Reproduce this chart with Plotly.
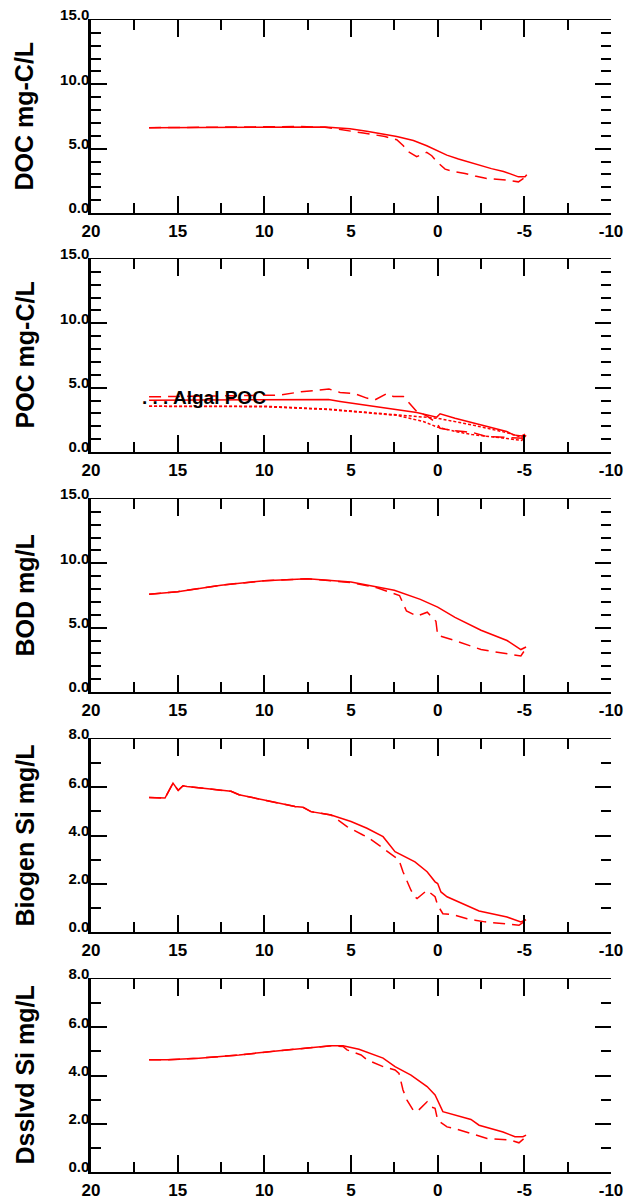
import plotly.graph_objects as go

# ---------------- data ----------------
# DOC mg-C/L
doc_x_a = [16.65, 14, 12, 10, 7.94, 6.5, 5.06, 4.09, 2.36, 1.4, 0.63, 0.05, -0.53, -1.2, -2.06, -2.45, -3.1, -3.8, -4.18, -4.66, -5.04, -5.14]
doc_y_a = [6.63, 6.65, 6.66, 6.68, 6.72, 6.68, 6.54, 6.35, 5.94, 5.63, 5.23, 4.84, 4.5, 4.2, 3.85, 3.67, 3.45, 3.23, 3.02, 2.81, 2.81, 2.97]
doc_x_b = [16.65, 14, 12, 10, 7.94, 6.5, 5.06, 4.29, 3.61, 3.04, 2.36, 1.98, 1.78, 1.21, 0.63, 0.34, 0.05, -0.43, -0.9, -1.58, -2.16, -2.83, -3.98, -4.66, -5.14]
doc_y_b = [6.63, 6.65, 6.66, 6.68, 6.72, 6.66, 6.41, 6.22, 6.07, 5.94, 5.7, 5.23, 4.84, 4.38, 4.71, 4.45, 3.98, 3.41, 3.23, 3.07, 2.87, 2.68, 2.55, 2.42, 2.86]

# POC mg-C/L (total)
poc_x_a = [16.65, 12, 9, 6.3, 5.63, 3.7, 1.21, 0.05, -0.14, -1.0, -2.06, -3.0, -3.98, -4.37, -4.85, -5.04]
poc_y_a = [4.03, 4.05, 4.07, 4.08, 3.93, 3.55, 3.07, 2.71, 2.97, 2.62, 2.24, 1.92, 1.59, 1.33, 1.25, 1.38]
poc_x_b = [16.65, 12, 9.15, 7.88, 6.27, 5.63, 4.77, 4.09, 3.61, 2.94, 2.56, 1.98, 1.21, 0.63, 0.05, -0.14, -0.9, -1.48, -2.06, -2.83, -4.94, -5.04]
poc_y_b = [4.29, 4.35, 4.42, 4.68, 4.89, 4.63, 4.53, 4.19, 4.06, 4.53, 4.32, 4.32, 3.15, 2.81, 2.24, 1.85, 1.66, 1.59, 1.5, 1.2, 1.07, 1.38]
# Algal POC
apoc_x_a = [16.65, 10, 6.3, 3.0, 1.0, 0.0, -2.0, -4.0, -4.85, -5.1]
apoc_y_a = [3.55, 3.56, 3.33, 2.97, 2.75, 2.62, 2.1, 1.5, 1.15, 1.3]
apoc_x_b = [16.65, 10, 6.3, 3.0, 2.36, 0.83, 0.05, -1.0, -2.0, -4.0, -4.85, -5.1]
apoc_y_b = [3.55, 3.52, 3.3, 2.9, 2.85, 2.37, 1.95, 1.6, 1.35, 1.05, 0.9, 1.3]

# BOD mg/L
bod_x_a = [16.65, 15, 12.5, 10, 7.5, 5.0, 2.5, 1.0, 0.0, -1.0, -2.5, -4.0, -4.8, -5.1]
bod_y_a = [7.6, 7.8, 8.3, 8.65, 8.8, 8.55, 7.9, 7.2, 6.6, 5.8, 4.8, 4.0, 3.3, 3.5]
bod_x_b = [16.65, 15, 12.5, 10, 7.5, 5.0, 3.5, 2.2, 1.8, 1.2, 0.6, 0.1, 0.0, -1.0, -2.5, -4.0, -4.8, -5.1]
bod_y_b = [7.6, 7.8, 8.3, 8.65, 8.8, 8.5, 8.1, 7.5, 6.3, 5.9, 6.2, 5.5, 4.4, 4.0, 3.3, 3.0, 2.8, 3.4]

# Biogen Si mg/L
bsi_x_a = [16.65, 15.73, 15.27, 14.97, 14.69, 14.46, 11.92, 11.46, 10.08, 8.69, 8.23, 7.77, 7.31, 6.15, 5.0, 4.08, 3.15, 2.46, 1.31, 0.61, 0.15, 0.0, -0.19, -0.54, -2.04, -2.39, -4.0, -4.46, -4.8, -5.1]
bsi_y_a = [5.57, 5.55, 6.17, 5.87, 6.06, 6.03, 5.83, 5.69, 5.48, 5.27, 5.2, 5.17, 4.99, 4.85, 4.58, 4.3, 3.95, 3.33, 2.91, 2.5, 2.08, 2.01, 1.66, 1.46, 0.97, 0.87, 0.62, 0.49, 0.42, 0.51]
bsi_x_b = [16.65, 15.73, 15.27, 14.97, 14.69, 14.46, 11.92, 11.46, 10.08, 8.69, 8.23, 7.77, 7.31, 6.15, 5.23, 4.31, 4.08, 3.27, 2.46, 2.23, 2.0, 1.77, 1.54, 1.31, 1.19, 0.61, 0.38, 0.15, 0.0, -0.3, -0.88, -1.7, -2.16, -2.73, -4.69, -5.1]
bsi_y_b = [5.57, 5.55, 6.17, 5.87, 6.06, 6.03, 5.83, 5.69, 5.48, 5.27, 5.2, 5.17, 4.99, 4.85, 4.37, 4.02, 3.95, 3.54, 3.12, 2.98, 2.5, 2.15, 1.73, 1.46, 1.39, 1.73, 1.6, 1.46, 1.11, 0.76, 0.72, 0.55, 0.49, 0.42, 0.28, 0.49]

# Dsslvd Si mg/L
dsi_x_a = [16.65, 15.62, 13.77, 11.46, 9.15, 7.31, 6.15, 5.46, 4.54, 3.15, 2.46, 1.54, 0.61, 0.15, -0.07, -0.3, -1.92, -2.39, -3.77, -4.46, -4.92, -5.1]
dsi_y_a = [4.65, 4.65, 4.72, 4.85, 5.03, 5.17, 5.23, 5.23, 5.09, 4.72, 4.37, 4.02, 3.54, 3.19, 2.84, 2.5, 2.18, 1.94, 1.66, 1.46, 1.46, 1.53]
dsi_x_b = [16.65, 15.62, 13.77, 11.46, 9.15, 7.31, 6.15, 5.46, 5.23, 4.42, 4.08, 3.15, 2.46, 2.23, 2.0, 1.77, 1.42, 1.19, 0.61, 0.38, 0.15, 0.0, -0.54, -1.0, -1.92, -2.15, -2.85, -4.23, -4.69, -5.1]
dsi_y_b = [4.65, 4.65, 4.72, 4.85, 5.03, 5.17, 5.23, 5.2, 5.06, 4.85, 4.65, 4.37, 4.23, 4.09, 3.4, 2.98, 2.57, 2.5, 2.91, 2.7, 2.64, 2.15, 1.87, 1.8, 1.59, 1.53, 1.39, 1.32, 1.21, 1.46]

x_tick_vals = [20, 15, 10, 5, 0, -5, -10]
x_tick_text = ["20", "15", "10", "5", "0", "-5", "-10"]

panel_titles = ["DOC mg-C/L", "POC mg-C/L", "BOD mg/L", "Biogen Si mg/L", "Dsslvd Si mg/L"]
panel_ymax = [15, 15, 15, 8, 8]
panel_ydtick = [5, 5, 5, 2, 2]

# ---------------- layout geometry ----------------
W, H = 626, 1201
x_left_px, x_right_px = 91, 611
panel_top_px = [20, 259, 499, 739, 979]
panel_h_px = 193

RED = "#ff0000"
FONT = "Liberation Sans, Arial, sans-serif"

fig = go.Figure()

series = [
    [(doc_x_a, doc_y_a, "solid"), (doc_x_b, doc_y_b, "12px,7px")],
    [(poc_x_a, poc_y_a, "solid"), (poc_x_b, poc_y_b, "12px,7px"),
     (apoc_x_a, apoc_y_a, "3px,2px"), (apoc_x_b, apoc_y_b, "3px,2px")],
    [(bod_x_a, bod_y_a, "solid"), (bod_x_b, bod_y_b, "12px,7px")],
    [(bsi_x_a, bsi_y_a, "solid"), (bsi_x_b, bsi_y_b, "12px,7px")],
    [(dsi_x_a, dsi_y_a, "solid"), (dsi_x_b, dsi_y_b, "12px,7px")],
]

for i, sers in enumerate(series):
    n = i + 1
    xa = "x" if n == 1 else f"x{n}"
    ya = "y" if n == 1 else f"y{n}"
    # invisible carrier traces so the mirrored top / right axes get drawn
    fig.add_trace(go.Scatter(x=sers[0][0], y=sers[0][1], mode="lines",
                             xaxis=f"x{n+5}", yaxis=ya, opacity=0,
                             showlegend=False, hoverinfo="skip"))
    fig.add_trace(go.Scatter(x=sers[0][0], y=sers[0][1], mode="lines",
                             xaxis=xa, yaxis=f"y{n+5}", opacity=0,
                             showlegend=False, hoverinfo="skip"))
    for xs, ys, dash in sers:
        fig.add_trace(go.Scatter(x=xs, y=ys, mode="lines", xaxis=xa, yaxis=ya,
                                 line=dict(color=RED, width=1.5, dash=dash),
                                 showlegend=False, hoverinfo="skip"))

xtickfont = dict(family=FONT, size=17, color="black", weight="bold")
ytickfont = dict(family=FONT, size=15, color="black", weight="bold")
layout = {}
for i in range(5):
    n = i + 1
    top = panel_top_px[i]
    bot = top + panel_h_px
    ydom = [1 - bot / H, 1 - top / H]
    xdom = [x_left_px / W, x_right_px / W]
    ykey = "y" if n == 1 else f"y{n}"
    xkey = "x" if n == 1 else f"x{n}"
    # main bottom x axis
    layout[f"xaxis{n}"] = dict(domain=xdom, anchor=ykey, range=[20, -10],
                               showline=True, linewidth=1.5, linecolor="black",
                               ticks="inside", ticklen=17, tickwidth=2, tickcolor="black",
                               tickvals=x_tick_vals, ticktext=x_tick_text,
                               tickfont=xtickfont, ticklabelstandoff=2,
                               ticklabeloverflow="allow",
                               showgrid=False, zeroline=False,
                               minor=dict(dtick=2.5, tick0=0, ticks="inside", ticklen=10,
                                          tickwidth=1.5, tickcolor="black", showgrid=False),
                               fixedrange=True)
    # top mirrored x axis
    layout[f"xaxis{n+5}"] = dict(overlaying=xkey, anchor=ykey, side="top", range=[20, -10],
                                 showline=True, linewidth=1, linecolor="black",
                                 ticks="inside", ticklen=17, tickwidth=2, tickcolor="black",
                                 tickvals=x_tick_vals, showticklabels=False,
                                 showgrid=False, zeroline=False,
                                 minor=dict(dtick=2.5, tick0=0, ticks="inside", ticklen=10,
                                            tickwidth=1.5, tickcolor="black", showgrid=False),
                                 fixedrange=True)
    # main left y axis
    layout[f"yaxis{n}"] = dict(domain=ydom, anchor=xkey, range=[0, panel_ymax[i]],
                               showline=True, linewidth=2.5, linecolor="black",
                               ticks="inside", ticklen=16, tickwidth=2, tickcolor="black",
                               dtick=panel_ydtick[i], tick0=0, tickformat=".1f",
                               tickfont=ytickfont, ticklabelshift=-5, ticklabelstandoff=-4,
                               ticklabeloverflow="allow",
                               showgrid=False, zeroline=False,
                               minor=dict(dtick=1, tick0=0, ticks="inside", ticklen=10,
                                          tickwidth=1.5, tickcolor="black", showgrid=False),
                               fixedrange=True)
    # right mirrored y ticks (no line)
    layout[f"yaxis{n+5}"] = dict(overlaying=ykey, anchor=xkey, side="right",
                                 range=[0, panel_ymax[i]], showline=False,
                                 ticks="inside", ticklen=16, tickwidth=2, tickcolor="black",
                                 dtick=panel_ydtick[i], tick0=0, showticklabels=False,
                                 showgrid=False, zeroline=False,
                                 minor=dict(dtick=1, tick0=0, ticks="inside", ticklen=10,
                                            tickwidth=1.5, tickcolor="black", showgrid=False),
                                 fixedrange=True)

annotations = []
for i, t in enumerate(panel_titles):
    top = panel_top_px[i]
    cy = 1 - (top + panel_h_px / 2) / H
    annotations.append(dict(text=t, xref="paper", yref="paper", x=24 / W, y=cy,
                            xanchor="center", yanchor="middle", textangle=-90,
                            showarrow=False,
                            font=dict(family=FONT, size=25, color="black", weight="bold")))
annotations.append(dict(text=". . . Algal POC", xref="x2", yref="y2", x=17.2, y=4.2,
                        xanchor="left", yanchor="middle", showarrow=False,
                        font=dict(family=FONT, size=19, color="black", weight="bold")))

fig.update_layout(**layout)
fig.update_layout(annotations=annotations, width=W, height=H,
                  margin=dict(l=0, r=0, t=0, b=0, autoexpand=False),
                  paper_bgcolor="white", plot_bgcolor="white", showlegend=False)

# remove the default 8px page margin so the figure fills the window exactly
fig.write_html("out.html", config={"displayModeBar": False},
               post_script="document.body.style.margin='0px';document.body.style.overflow='hidden';")
